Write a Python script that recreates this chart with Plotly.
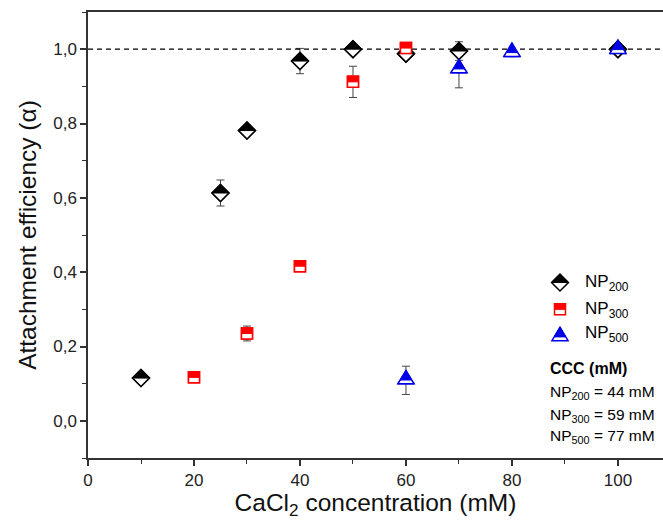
import plotly.graph_objects as go

# ---------------- data ----------------
conc_200 = [10, 25, 30, 40, 50, 60, 70, 100]
alpha_200 = [0.115, 0.613, 0.781, 0.968, 1.000, 0.988, 0.995, 1.000]
err_200 = [0.008, 0.035, 0.010, 0.034, 0.008, 0.010, 0.025, 0.008]

conc_300 = [20, 30, 40, 50, 60]
alpha_300 = [0.117, 0.235, 0.416, 0.912, 1.003]
err_300 = [0.008, 0.020, 0.012, 0.042, 0.010]

conc_500 = [60, 70, 80, 100]
alpha_500 = [0.109, 0.946, 0.990, 0.998]
err_500 = [0.038, 0.050, 0.010, 0.010]

names = ["NP<sub>200</sub>", "NP<sub>300</sub>", "NP<sub>500</sub>"]
ccc_title = "<b>CCC (mM)</b>"
ccc_lines = ["NP<sub>200</sub> = 44 mM", "NP<sub>300</sub> = 59 mM", "NP<sub>500</sub> = 77 mM"]
reference_alpha = 1.0

x_ticks = [0, 20, 40, 60, 80, 100]
y_ticks = [0.0, 0.2, 0.4, 0.6, 0.8, 1.0]

FONT = "Arial, Liberation Sans, sans-serif"
BLACK = "#000000"
RED = "#ff0000"
BLUE = "#0000e6"

# ---------------- marker geometry (pixels, y up) ----------------
def diamond_paths(size):
    rd = 1.3 * size / 2
    outline = f"M{rd},0 L0,{rd} L{-rd},0 L0,{-rd} Z"
    top = f"M{-rd},0 L0,{rd} L{rd},0 Z"
    return outline, top

def square_paths(size):
    s = size / 2
    outline = f"M{-s},{-s} H{s} V{s} H{-s} Z"
    top = f"M{-s},0 H{s} V{s} H{-s} Z"
    return outline, top

def triangle_paths(size):
    r = size / 2
    rt = r * 2 / 3 ** 0.5
    base = -r / 2
    apex = r * 2 ** 0.5
    outline = f"M{-rt},{base} H{rt} L0,{apex} Z"
    cut = 0.3
    frac = (apex - cut) / (apex - base)
    hw = rt * frac
    top = f"M{-hw},{cut} H{hw} L0,{apex} Z"
    return outline, top

series = [
    dict(x=conc_200, y=alpha_200, e=err_200, color=BLACK, symbol="diamond", size=13, paths=diamond_paths(13)),
    dict(x=conc_300, y=alpha_300, e=err_300, color=RED, symbol="square", size=11, paths=square_paths(11)),
    dict(x=conc_500, y=alpha_500, e=err_500, color=BLUE, symbol="triangle-up", size=14, paths=triangle_paths(14)),
]

fig = go.Figure()
shapes = []

# reference line
shapes.append(dict(type="line", xref="paper", x0=0, x1=1, yref="y", y0=reference_alpha, y1=reference_alpha,
                   line=dict(color=BLACK, width=1.2, dash="5px,4px"), layer="above"))

for i, s in enumerate(series):
    fig.add_trace(go.Scatter(
        x=s["x"], y=s["y"], mode="markers", name=names[i], showlegend=False,
        marker=dict(symbol=s["symbol"], size=s["size"], color="white",
                    line=dict(color=s["color"], width=1.5)),
        error_y=dict(type="data", array=s["e"], visible=True, color="#444444", thickness=1, width=4),
    ))
    outline, top = s["paths"]
    for xv, yv in zip(s["x"], s["y"]):
        base = dict(type="path", xref="x", yref="y", xsizemode="pixel", ysizemode="pixel",
                    xanchor=xv, yanchor=yv, layer="above")
        shapes.append(dict(base, path=outline, fillcolor="white", line=dict(color=s["color"], width=1.5)))
        shapes.append(dict(base, path=top, fillcolor=s["color"], line=dict(color=s["color"], width=1)))

# manual legend
W, H, L, B = 575, 446, 88, 62
def px_x(px):
    return (px - L) / W
def px_y(py):
    return (520 - B - py) / H

legend_marker_y = [282.5, 309.3, 337.2]
legend_text_y = [283.5, 309.8, 334.5]
annotations = []
for i, s in enumerate(series):
    outline, top = s["paths"]
    base = dict(type="path", xref="paper", yref="paper", xsizemode="pixel", ysizemode="pixel",
                xanchor=px_x(560), yanchor=px_y(legend_marker_y[i]), layer="above")
    shapes.append(dict(base, path=outline, fillcolor="white", line=dict(color=s["color"], width=1.5)))
    shapes.append(dict(base, path=top, fillcolor=s["color"], line=dict(color=s["color"], width=1)))
    annotations.append(dict(xref="paper", yref="paper", x=px_x(583), y=px_y(legend_text_y[i]),
                            text=names[i], showarrow=False, xanchor="left", yanchor="middle",
                            font=dict(family=FONT, size=17, color=BLACK)))

annotations.append(dict(xref="paper", yref="paper", x=px_x(548), y=px_y(368), text=ccc_title,
                        showarrow=False, xanchor="left", yanchor="middle",
                        font=dict(family=FONT, size=16, color=BLACK)))
for j, t in enumerate(ccc_lines):
    annotations.append(dict(xref="paper", yref="paper", x=px_x(548), y=px_y([392.7, 415, 436.7][j]),
                            text=t, showarrow=False, xanchor="left", yanchor="middle",
                            font=dict(family=FONT, size=15.5, color=BLACK)))

fig.update_layout(
    width=663, height=520,
    margin=dict(l=L, r=0, t=12, b=B, autoexpand=False),
    paper_bgcolor="white", plot_bgcolor="white",
    separators=", ",
    shapes=shapes, annotations=annotations,
    font=dict(family=FONT, color=BLACK),
    showlegend=False,
)
fig.update_xaxes(
    range=[0, 108.5], tickvals=x_ticks, ticks="outside", ticklen=6, tickwidth=1.5, tickcolor="#333333",
    showline=True, linecolor="#333333", linewidth=1.5, mirror=True, showgrid=False, zeroline=False,
    minor=dict(dtick=10, tick0=0, ticks="outside", ticklen=4, tickwidth=1.2, tickcolor="#333333"),
    tickfont=dict(family=FONT, size=17, color="#222222"), automargin=False,
    title=dict(text="CaCl<sub>2</sub> concentration (mM)", font=dict(family=FONT, size=24.5, color="#111111"), standoff=4),
)
fig.update_yaxes(
    range=[-0.1, 1.1], tickvals=y_ticks, tickformat=".1f", ticks="outside", ticklen=6, tickwidth=1.5,
    tickcolor="#333333", showline=True, linecolor="#333333", linewidth=1.5, mirror=False,
    showgrid=False, zeroline=False, automargin=False,
    minor=dict(dtick=0.1, tick0=0, ticks="outside", ticklen=4, tickwidth=1.2, tickcolor="#333333"),
    tickfont=dict(family=FONT, size=17, color="#222222"),
    title=dict(text="Attachment efficiency (α)", font=dict(family=FONT, size=24.5, color="#111111"), standoff=10),
)

fig.write_html("out.html", config={"displayModeBar": False},
               post_script="document.body.style.margin='0';document.body.style.overflow='hidden';")
